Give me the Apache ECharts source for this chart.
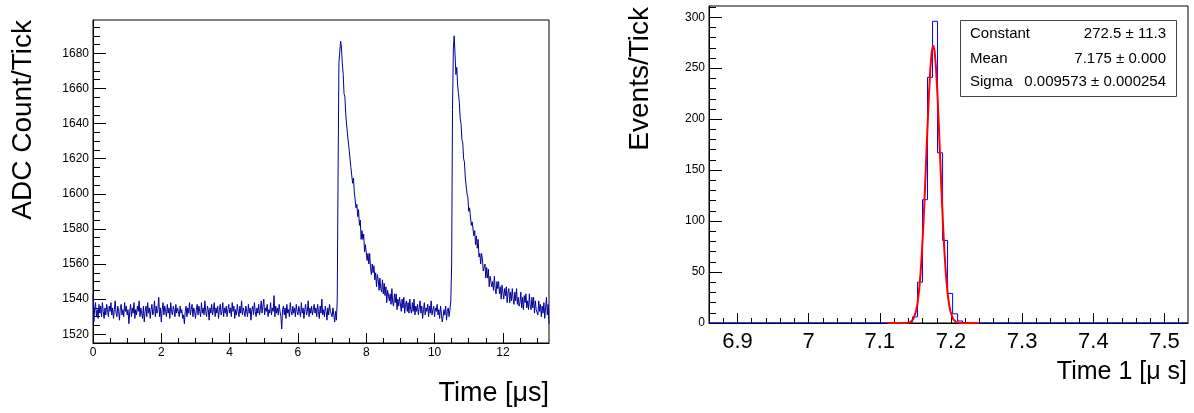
<!DOCTYPE html>
<html><head><meta charset="utf-8">
<script src="https://cdn.jsdelivr.net/npm/echarts@6/dist/echarts.min.js"></script>
<style>html,body{margin:0;padding:0;background:#fff}#c{width:1194px;height:413px}</style>
</head><body><div id="c"></div>
<script>
// ---------- Left panel: ADC waveform ----------
const sampleStep = 0.025; // μs per ADC sample
const adcCounts = [
1543,1527,1535,1538,1530,1534,1529,1537,1532,1536,1530,1538,1533,1529,1535,1531,1537,1534,1530,1536,
1533,1538,1531,1535,1529,1534,1539,1532,1530,1536,1533,1528,1535,1537,1531,1534,1530,1538,1533,1536,
1531,1534,1526,1533,1537,1530,1535,1532,1538,1529,1534,1531,1536,1533,1539,1530,1535,1532,1529,1536,
1527,1533,1536,1530,1538,1532,1535,1529,1534,1537,1531,1533,1539,1530,1536,1532,1534,1541,1530,1535,
1527,1534,1538,1531,1536,1533,1530,1537,1532,1535,1529,1538,1533,1531,1536,1534,1530,1537,1532,1535,
1533,1530,1536,1532,1534,1529,1531,1526,1533,1536,1530,1535,1532,1538,1531,1534,1537,1530,1535,1533,
1529,1534,1537,1531,1536,1533,1530,1538,1532,1535,1531,1539,1533,1530,1536,1534,1528,1535,1532,1537,
1531,1534,1538,1530,1535,1532,1536,1529,1534,1537,1531,1533,1538,1530,1535,1532,1536,1530,1534,1537,
1532,1535,1530,1538,1533,1536,1529,1534,1531,1537,1533,1530,1536,1532,1539,1531,1535,1533,1530,1536,
1533,1530,1537,1532,1535,1528,1534,1536,1531,1538,1533,1530,1535,1532,1537,1531,1534,1539,1532,1536,
1540,1531,1535,1533,1537,1530,1534,1532,1538,1531,1535,1533,1542,1530,1536,1532,1535,1531,1537,1533,
1530,1523,1534,1536,1531,1535,1529,1537,1532,1534,1530,1538,1533,1531,1536,1532,1535,1530,1537,1533,
1531,1536,1533,1530,1538,1532,1535,1529,1534,1537,1531,1533,1539,1530,1535,1532,1536,1531,1534,1537,
1532,1535,1530,1537,1533,1529,1536,1532,1540,1531,1534,1530,1536,1533,1528,1535,1531,1537,1533,1534,
1530,1535,1531,1527,1533,1528,1539,1612,1675,1681,1687,1683,1674,1668,1657,1655,1645,1644,1634,1633,
1625,1625,1615,1615,1606,1609,1601,1602,1592,1594,1587,1591,1582,1585,1574,1579,1574,1577,1567,1571,
1570,1562,1566,1560,1566,1558,1554,1560,1555,1559,1551,1555,1547,1554,1551,1545,1552,1546,1544,1551,
1543,1549,1542,1547,1538,1545,1546,1539,1543,1537,1546,1538,1536,1543,1538,1543,1534,1540,1536,1541,
1540,1533,1540,1535,1541,1532,1537,1539,1533,1538,1532,1540,1534,1532,1538,1533,1540,1531,1536,1533,
1537,1531,1535,1539,1532,1536,1529,1534,1538,1531,1535,1533,1537,1530,1536,1532,1539,1531,1534,1536,
1530,1535,1533,1537,1531,1534,1529,1536,1532,1527,1530,1534,1531,1536,1528,1533,1535,1530,1534,1539,
1560,1648,1683,1690,1679,1668,1672,1662,1657,1652,1643,1640,1631,1629,1620,1618,1609,1608,1600,1598,
1590,1592,1591,1582,1584,1585,1576,1579,1571,1576,1569,1574,1564,1566,1560,1566,1563,1556,1557,1560,
1552,1558,1552,1557,1547,1553,1554,1547,1550,1545,1553,1546,1543,1550,1546,1550,1543,1547,1540,1548,
1547,1540,1546,1542,1547,1538,1544,1546,1538,1544,1539,1546,1540,1537,1544,1539,1546,1537,1541,1536,
1538,1544,1535,1541,1534,1542,1538,1543,1535,1539,1534,1543,1536,1534,1541,1535,1541,1532,1539,1534,
1535,1531,1539,1533,1537,1530,1536,1532,1538,1529,1535,1541,1531,1537,1526
];
const waveXRange = [0, 13.35];
const waveYRange = [1515, 1699];
const waveXTicks = [0, 2, 4, 6, 8, 10, 12];
const waveYTicks = [1520, 1540, 1560, 1580, 1600, 1620, 1640, 1660, 1680];

// ---------- Right panel: Time 1 histogram + gaussian fit ----------
const histXRange = [6.86, 7.533];
const histYRange = [0, 311];
const histXTicks = [6.9, 7.0, 7.1, 7.2, 7.3, 7.4, 7.5];
const histYTicks = [0, 50, 100, 150, 200, 250, 300];
const histBinWidth = 0.00704;
const histBinLow = [7.1389, 7.1459, 7.1530, 7.1600, 7.1670, 7.1741, 7.1811, 7.1882, 7.1952, 7.2023, 7.2093];
const histCounts = [1, 6, 40, 121, 241, 296, 167, 81, 29, 9, 2];
const fitTimes = [7.111,7.115,7.119,7.123,7.127,7.131,7.135,7.139,7.143,7.147,7.151,7.153,7.155,7.157,7.159,7.161,7.163,7.165,7.167,7.169,7.171,7.173,7.175,
  7.177,7.179,7.181,7.183,7.185,7.187,7.189,7.191,7.193,7.195,7.197,7.199,7.203,7.207,7.211,7.215,7.219,7.223,7.227,7.231,7.235,7.239];
const fitValues = [0,0,0,0,0,0.01,0.05,0.23,1.02,3.78,11.76,19.43,30.73,46.52,67.42,93.53,124.22,157.91,192.18,223.91,249.72,266.62,272.5,
  266.62,249.72,223.91,192.18,157.91,124.22,93.53,67.42,46.52,30.73,19.43,11.76,3.78,1.02,0.23,0.05,0.01,0,0,0,0,0];
const statNames = ['Constant', 'Mean', 'Sigma'];
const statValues = ['272.5 \u00b1 11.3', '7.175 \u00b1 0.000', '0.009573 \u00b1 0.000254'];

// ---------- build series data ----------
const waveData = adcCounts.map((v, i) => [i * sampleStep, v]);
const histData = [[histXRange[0], 0]];
histBinLow.forEach((x, i) => histData.push([x, histCounts[i]]));
histData.push([histBinLow[histBinLow.length - 1] + histBinWidth, 0]);
histData.push([histXRange[1], 0]);
const fitData = fitTimes.map((t, i) => [t, fitValues[i]]);

const FONT = '"Liberation Sans", Arial, Helvetica, sans-serif';
function axisCommon(tickLen, minorLen, minorSplit, fontSize, margin, ticks) {
  return {
    axisLine: { show: true, onZero: false, lineStyle: { color: '#000', width: 1 } },
    axisTick: { show: true, inside: true, length: tickLen, lineStyle: { color: '#000', width: 1 }, customValues: ticks },
    minorTick: { show: true, splitNumber: minorSplit, length: minorLen, lineStyle: { color: '#000', width: 1 } },
    splitLine: { show: false },
    minorSplitLine: { show: false },
    axisLabel: { color: '#000', fontSize: fontSize, fontFamily: FONT, margin: margin, customValues: ticks,
      hideOverlap: false, formatter: (v) => String(v) }
  };
}

const chart = echarts.init(document.getElementById('c'), null, { renderer: 'canvas' });
chart.setOption({
  animation: false,
  backgroundColor: '#fff',
  grid: [
    { left: 93, top: 20, width: 456, height: 323, show: true, borderColor: '#000', borderWidth: 1, containLabel: false },
    { left: 709, top: 6, width: 479, height: 317, show: true, borderColor: '#000', borderWidth: 1, containLabel: false }
  ],
  xAxis: [
    Object.assign({ type: 'value', gridIndex: 0, min: waveXRange[0], max: waveXRange[1], interval: 2 },
      axisCommon(10, 5, 4, 12, 4, waveXTicks)),
    Object.assign({ type: 'value', gridIndex: 1, min: histXRange[0], max: histXRange[1], splitNumber: 7 },
      axisCommon(10, 5, 5, 22, 8, histXTicks))
  ],
  yAxis: [
    Object.assign({ type: 'value', gridIndex: 0, min: waveYRange[0], max: waveYRange[1], splitNumber: 9 },
      axisCommon(13, 7, 4, 12, 4, waveYTicks)),
    Object.assign({ type: 'value', gridIndex: 1, min: histYRange[0], max: histYRange[1], interval: 50 },
      axisCommon(13, 7, 5, 12, 4, histYTicks))
  ],
  series: [
    { type: 'line', xAxisIndex: 0, yAxisIndex: 0, data: waveData, showSymbol: false, symbol: 'none',
      lineStyle: { color: '#000099', width: 1 }, clip: true },
    { type: 'line', xAxisIndex: 1, yAxisIndex: 1, data: histData, step: 'end', showSymbol: false, symbol: 'none',
      lineStyle: { color: '#0000ff', width: 1 }, clip: true },
    { type: 'line', xAxisIndex: 1, yAxisIndex: 1, data: fitData, showSymbol: false, symbol: 'none', smooth: false,
      lineStyle: { color: '#ff0000', width: 2 }, clip: true, z: 5 }
  ],
  graphic: [
    { type: 'text', x: 23, y: 20, rotation: Math.PI / 2,
      style: { text: 'ADC Count/Tick', font: '28px ' + FONT, fill: '#000', align: 'right', verticalAlign: 'middle' } },
    { type: 'text', x: 549, y: 394,
      style: { text: 'Time [\u03bcs]', font: '27px ' + FONT, fill: '#000', align: 'right', verticalAlign: 'middle' } },
    { type: 'text', x: 640, y: 7, rotation: Math.PI / 2,
      style: { text: 'Events/Tick', font: '28px ' + FONT, fill: '#000', align: 'right', verticalAlign: 'middle' } },
    { type: 'text', x: 1187, y: 372,
      style: { text: 'Time 1 [\u03bc s]', font: '25px ' + FONT, fill: '#000', align: 'right', verticalAlign: 'middle' } },
    { type: 'rect', shape: { x: 960.5, y: 20.5, width: 216, height: 76 }, z: 10,
      style: { fill: '#fff', stroke: '#444', lineWidth: 1 } },
    { type: 'text', x: 970, y: 34, z: 11, style: { text: statNames[0], font: '15px ' + FONT, fill: '#000', align: 'left', verticalAlign: 'middle' } },
    { type: 'text', x: 970, y: 59, z: 11, style: { text: statNames[1], font: '15px ' + FONT, fill: '#000', align: 'left', verticalAlign: 'middle' } },
    { type: 'text', x: 970, y: 82, z: 11, style: { text: statNames[2], font: '15px ' + FONT, fill: '#000', align: 'left', verticalAlign: 'middle' } },
    { type: 'text', x: 1166, y: 34, z: 11, style: { text: statValues[0], font: '15px ' + FONT, fill: '#000', align: 'right', verticalAlign: 'middle' } },
    { type: 'text', x: 1166, y: 59, z: 11, style: { text: statValues[1], font: '15px ' + FONT, fill: '#000', align: 'right', verticalAlign: 'middle' } },
    { type: 'text', x: 1166, y: 82, z: 11, style: { text: statValues[2], font: '15px ' + FONT, fill: '#000', align: 'right', verticalAlign: 'middle' } }
  ]
});
</script></body></html>
